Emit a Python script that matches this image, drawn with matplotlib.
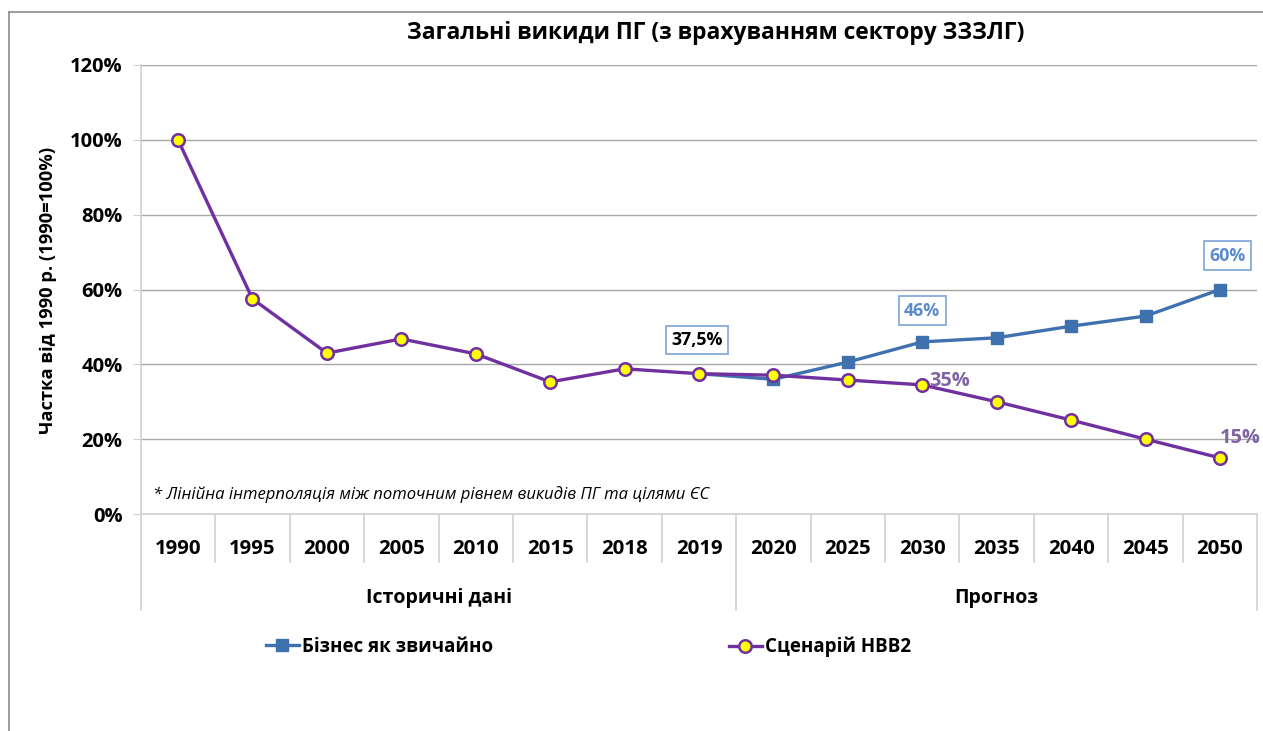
import matplotlib
matplotlib.use("Agg")
import matplotlib.pyplot as plt
from matplotlib.lines import Line2D
from matplotlib.ticker import FuncFormatter, MultipleLocator
import matplotlib.transforms as mtrans

plt.rcParams['font.family'] = ['Open Sans', 'DejaVu Sans']

years = ['1990', '1995', '2000', '2005', '2010', '2015', '2018', '2019',
         '2020', '2025', '2030', '2035', '2040', '2045', '2050']
nvv2 = [100, 57.5, 43.0, 46.8, 42.8, 35.3, 38.8, 37.5,
        37.1, 35.8, 34.5, 30.0, 25.1, 20.0, 15.0]
bau_years = ['2019', '2020', '2025', '2030', '2035', '2040', '2045', '2050']
bau = [37.5, 36.0, 40.6, 46.0, 47.1, 50.2, 52.9, 60.0]
groups = ['Історичні дані', 'Прогноз']
group_sizes = [8, 7]

title = 'Загальні викиди ПГ (з врахуванням сектору ЗЗЗЛГ)'
ylabel = 'Частка від 1990 р. (1990=100%)'
note = '* Лінійна інтерполяція між поточним рівнем викидів ПГ та цілями ЄС'
legend_bau = 'Бізнес як звичайно'
legend_nvv = 'Сценарій НВВ2'

BLUE = '#3F71AE'
PURPLE = '#7030A0'
YELLOW = '#FFFF00'
LBLUE = '#5B8BCB'
LPURPLE = '#8064A2'

W, H = 1263, 731
fig = plt.figure(figsize=(W / 100, H / 100), dpi=100)
fig.patch.set_facecolor('white')

# outer frame (left and top edges)
fig.add_artist(Line2D([9 / W, 9 / W], [0, 1 - 12 / H], transform=fig.transFigure,
                      color='#8C8C8C', lw=1.2))
fig.add_artist(Line2D([9 / W, 1], [1 - 12 / H, 1 - 12 / H], transform=fig.transFigure,
                      color='#8C8C8C', lw=1.2))

left, right = 140.8 / W, 1257.2 / W
bottom, top = 1 - 514 / H, 1 - 65 / H
ax = fig.add_axes([left, bottom, right - left, top - bottom])

idx = {y: i for i, y in enumerate(years)}
xs = list(range(len(years)))
bx = [idx[y] for y in bau_years]

ax.set_xlim(-0.5, len(years) - 0.5)
ax.set_ylim(0, 120)
ax.yaxis.set_major_locator(MultipleLocator(20))
ax.yaxis.set_major_formatter(FuncFormatter(lambda v, p: f'{v:.0f}%'))
ax.grid(axis='y', color='#A6A6A6', lw=1.0)
ax.set_axisbelow(True)
for s in ['top', 'right']:
    ax.spines[s].set_visible(False)
ax.spines['left'].set_color('#D0D0D0')
ax.spines['left'].set_linewidth(1.2)
ax.spines['bottom'].set_color('#D0D0D0')
ax.spines['bottom'].set_linewidth(1.2)
ax.tick_params(axis='y', length=6, color='#D0D0D0', labelsize=14.5, pad=7)
for t in ax.get_yticklabels():
    t.set_fontweight('bold')
ax.set_xticks([])

# series
ax.plot(bx, bau, color=BLUE, lw=2.4, marker='s', ms=8.5, mfc=BLUE, mec=BLUE,
        markevery=list(range(1, len(bx))), zorder=3)
ax.plot(xs, nvv2, color=PURPLE, lw=2.4, marker='o', ms=9, mfc=YELLOW, mec=PURPLE,
        mew=1.8, zorder=4)

# annotations
boxkw = dict(boxstyle='square,pad=0.3', fc='white', ec='#7DA4D8', lw=1.2)
ax.text(idx['2019'] - 0.03, 46.5, '37,5%', ha='center', va='center', fontsize=12.8,
        fontweight='bold', color='black', bbox=boxkw, zorder=5)
ax.text(idx['2030'], 54.3, '46%', ha='center', va='center', fontsize=12.8,
        fontweight='bold', color=LBLUE, bbox=boxkw, zorder=5)
ax.text(idx['2050'] + 0.1, 69.0, '60%', ha='center', va='center', fontsize=12.8,
        fontweight='bold', color=LBLUE, bbox=boxkw, zorder=5)
ax.text(idx['2030'] + 0.1, 35.5, '35%', ha='left', va='center', fontsize=14.4,
        fontweight='bold', color=LPURPLE, zorder=5)
ax.text(idx['2050'] + 0.27, 20.3, '15%', ha='center', va='center', fontsize=14.4,
        fontweight='bold', color=LPURPLE, zorder=5)
ax.text(-0.34, 5.1, note, ha='left', va='center', fontsize=12, style='italic',
        color='black')

# category axis
tr = mtrans.blended_transform_factory(ax.transData, ax.transAxes)
y_tick_end = -(562 - 514) / 449
y_group_end = -(610 - 514) / 449
y_year = -(549 - 514) / 449
y_group = -(598 - 514) / 449
bounds = [0]
for g in group_sizes:
    bounds.append(bounds[-1] + g)
for i in range(len(years) + 1):
    xb = i - 0.5
    yend = y_group_end if i in bounds else y_tick_end
    ax.add_line(Line2D([xb, xb], [0, yend], transform=tr, color='#D0D0D0', lw=1.2,
                       clip_on=False))
for i, yl in enumerate(years):
    ax.text(i, y_year, yl, transform=tr, ha='center', va='center', fontsize=14.7,
            fontweight='bold')
for gi, g in enumerate(groups):
    c = (bounds[gi] + bounds[gi + 1] - 1) / 2
    ax.text(c, y_group, g, transform=tr, ha='center', va='center', fontsize=14,
            fontweight='bold')

# title and y label
fig.text(716 / W, 1 - 33 / H, title, ha='center', va='center', fontsize=16.4,
         fontweight='bold')
fig.text(48 / W, 1 - 290 / H, ylabel, ha='center', va='center', rotation=90,
         fontsize=13.2, fontweight='bold')

# legends
h1 = Line2D([], [], color=BLUE, lw=2.4, marker='s', ms=8.5, mfc=BLUE, mec=BLUE)
h2 = Line2D([], [], color=PURPLE, lw=2.4, marker='o', ms=9, mfc=YELLOW, mec=PURPLE, mew=1.8)
legkw = dict(frameon=False, handlelength=1.75, handletextpad=0.15, borderpad=0,
             borderaxespad=0, prop={'size': 13.5, 'weight': 'bold'})
fig.legend([h1], [legend_bau], loc='center left', bbox_to_anchor=(266 / W, 1 - 647 / H), **legkw)
fig.legend([h2], [legend_nvv], loc='center left', bbox_to_anchor=(729 / W, 1 - 647 / H), **legkw)

fig.savefig('out.png', dpi=100, facecolor='white')
